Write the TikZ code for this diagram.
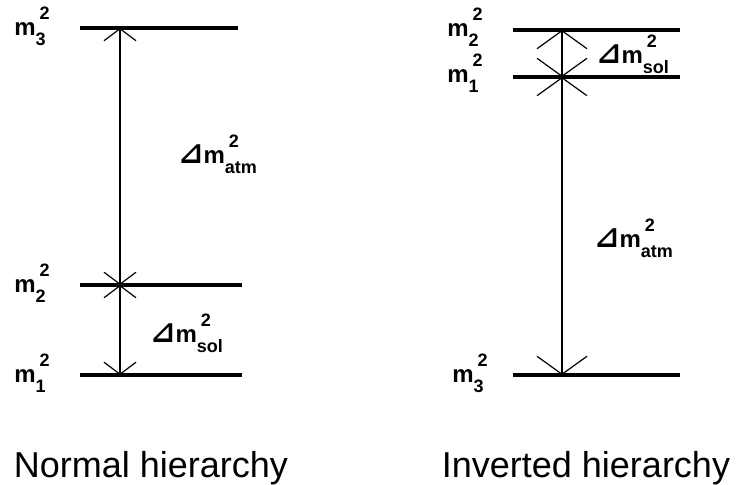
\documentclass[tikz,border=0pt]{standalone}
\usepackage{fontspec}
\setmainfont{Liberation Sans}
\newfontfamily\trifont{DejaVu Sans}
\usetikzlibrary{arrows.meta}
\tikzset{
  levelline/.style={line width=2.4pt},
  gapn/.style={line width=0.6pt,{Straight Barb[length=6pt,width=16pt]}-{Straight Barb[length=6pt,width=16pt]}},
  gapi/.style={line width=0.6pt,{Straight Barb[length=9pt,width=25pt]}-{Straight Barb[length=9pt,width=25pt]}},
  mlab/.style={font=\bfseries\fontsize{12}{12}\selectfont,inner sep=0pt,anchor=base west},
  ttl/.style={font=\fontsize{18}{20}\selectfont,inner sep=0pt,anchor=base},
}
\newcommand{\msq}[1]{m\makebox[0pt][l]{\,\raisebox{0.7em}{\fontsize{9}{9}\selectfont 2}}\raisebox{-0.4em}{\fontsize{9}{9}\selectfont #1}}
\newcommand{\dmsq}[1]{{\trifont\fontsize{15}{15}\selectfont ⊿}\msq{#1}}

\begin{document}
\begin{tikzpicture}[x=0.5pt,y=-0.5pt]
  \useasboundingbox (0,0) rectangle (744,485);

  % ---------- normal hierarchy ----------
  \coordinate (n3w) at (80,28);  \coordinate (n3e) at (238,28);
  \coordinate (n2w) at (80,285); \coordinate (n2e) at (242,285);
  \coordinate (n1w) at (80,375); \coordinate (n1e) at (242,375);
  \draw[levelline] (n3w) -- (n3e);
  \draw[levelline] (n2w) -- (n2e);
  \draw[levelline] (n1w) -- (n1e);
  \coordinate (n3) at (120,28);
  \coordinate (n2) at (120,285);
  \coordinate (n1) at (120,375);
  \draw[gapn] (n3) -- (n2);
  \draw[gapn] (n2) -- (n1);

  \node[mlab] (ln3) at (14,36)  {\msq{3}};
  \node[mlab] (ln2) at (14,293) {\msq{2}};
  \node[mlab] (ln1) at (14,383) {\msq{1}};
  \node[mlab] (natm) at (178,164) {\dmsq{atm}};
  \node[mlab] (nsol) at (150,343) {\dmsq{sol}};

  % ---------- inverted hierarchy ----------
  \coordinate (i2w) at (513,30);  \coordinate (i2e) at (680,30);
  \coordinate (i1w) at (513,77);  \coordinate (i1e) at (680,77);
  \coordinate (i3w) at (513,375); \coordinate (i3e) at (680,375);
  \draw[levelline] (i2w) -- (i2e);
  \draw[levelline] (i1w) -- (i1e);
  \draw[levelline] (i3w) -- (i3e);
  \coordinate (i2) at (562,30);
  \coordinate (i1) at (562,77);
  \coordinate (i3) at (562,375);
  \draw[gapi] (i2) -- (i1);
  \draw[gapi] (i1) -- (i3);

  \node[mlab] (li2) at (447,37)  {\msq{2}};
  \node[mlab] (li1) at (447,83)  {\msq{1}};
  \node[mlab] (li3) at (452,383) {\msq{3}};
  \node[mlab] (isol) at (596,64)  {\dmsq{sol}};
  \node[mlab] (iatm) at (594,248) {\dmsq{atm}};

  % ---------- titles ----------
  \node[ttl] (tn) at (151,478) {Normal hierarchy};
  \node[ttl] (ti) at (586,478) {Inverted hierarchy};
\end{tikzpicture}
\end{document}
